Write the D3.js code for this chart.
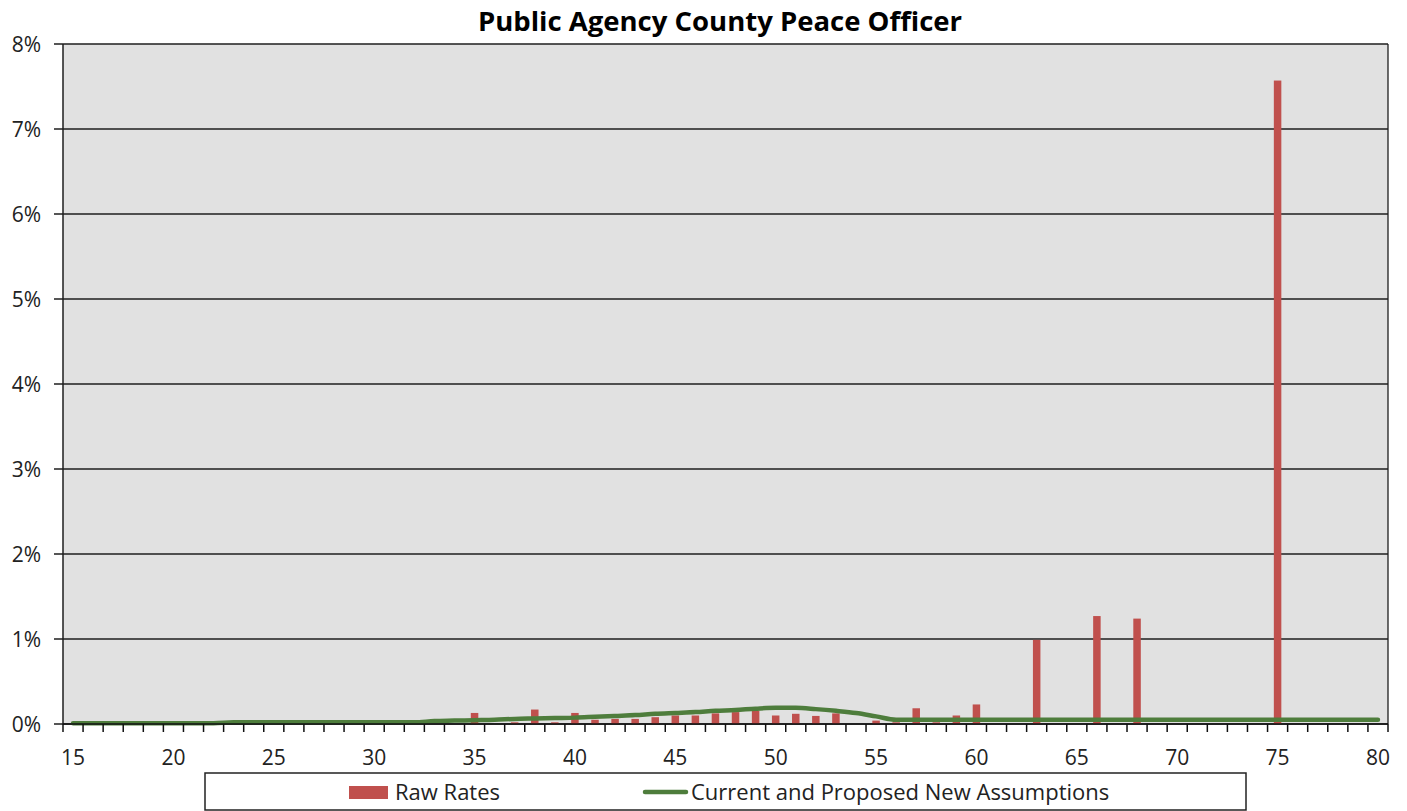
<!DOCTYPE html>
<meta charset="utf-8">
<script src="https://d3js.org/d3.v7.min.js"></script>
<style>
  body { margin: 0; background: #fff; }
  text { font-family: "Open Sans", sans-serif; fill: #222; }
</style>
<svg id="chart" width="1407" height="811"></svg>
<script>
  // ages on the category axis
  var ages = [15, 16, 17, 18, 19, 20, 21, 22, 23, 24, 25, 26, 27, 28, 29, 30, 31, 32, 33, 34,
    35, 36, 37, 38, 39, 40, 41, 42, 43, 44, 45, 46, 47, 48, 49, 50, 51, 52, 53, 54,
    55, 56, 57, 58, 59, 60, 61, 62, 63, 64, 65, 66, 67, 68, 69, 70, 71, 72, 73, 74,
    75, 76, 77, 78, 79, 80];

  // raw rates (%), one per age
  var rawRates = [0, 0, 0, 0, 0, 0, 0, 0, 0, 0, 0, 0, 0, 0, 0, 0, 0, 0, 0, 0,
    0.13, 0, 0.02, 0.17, 0.02, 0.13, 0.05, 0.06, 0.06, 0.08, 0.10, 0.10, 0.125, 0.14, 0.155, 0.10, 0.12, 0.095, 0.125, 0,
    0.04, 0.02, 0.185, 0.02, 0.10, 0.23, 0, 0, 0.99, 0, 0, 1.27, 0, 1.24, 0, 0, 0, 0, 0, 0,
    7.57, 0, 0, 0, 0, 0];

  // current and proposed new assumptions (%)
  var assumptions = [0.01, 0.01, 0.01, 0.01, 0.01, 0.01, 0.01, 0.01, 0.02, 0.02, 0.02, 0.02, 0.02, 0.02, 0.02, 0.02, 0.02, 0.02, 0.035, 0.04,
    0.045, 0.05, 0.06, 0.065, 0.07, 0.075, 0.085, 0.095, 0.105, 0.12, 0.13, 0.14, 0.155, 0.165, 0.18, 0.19, 0.19, 0.175, 0.155, 0.13,
    0.09, 0.05, 0.05, 0.05, 0.05, 0.05, 0.05, 0.05, 0.05, 0.05, 0.05, 0.05, 0.05, 0.05, 0.05, 0.05, 0.05, 0.05, 0.05, 0.05,
    0.05, 0.05, 0.05, 0.05, 0.05, 0.05];

  var yTicks = [0, 1, 2, 3, 4, 5, 6, 7, 8];
  var xLabels = [15, 20, 25, 30, 35, 40, 45, 50, 55, 60, 65, 70, 75, 80];

  var svg = d3.select("#chart");
  var pLeft = 63, pRight = 1388, pTop = 44, pBottom = 724;

  var x = d3.scaleBand().domain(ages).range([pLeft, pRight]).padding(0);
  var y = d3.scaleLinear().domain([0, 8]).range([pBottom, pTop]);

  // plot background
  svg.append("rect")
    .attr("x", pLeft).attr("y", pTop)
    .attr("width", pRight - pLeft).attr("height", pBottom - pTop)
    .attr("fill", "#e1e1e1");

  // gridlines + y ticks
  var yAxis = svg.append("g");
  yAxis.selectAll("line")
    .data(yTicks)
    .enter().append("line")
    .attr("x1", pLeft - 9).attr("x2", pRight)
    .attr("y1", function (d) { return y(d); })
    .attr("y2", function (d) { return y(d); })
    .attr("stroke", "#1e1e1e").attr("stroke-width", 1.3);
  yAxis.selectAll("text")
    .data(yTicks)
    .enter().append("text")
    .attr("x", 41)
    .attr("y", function (d) { return y(d) + 7.5; })
    .attr("text-anchor", "end")
    .style("font-size", "21px")
    .text(function (d) { return d + "%"; });

  // left axis and right border
  svg.append("line")
    .attr("x1", pLeft).attr("x2", pLeft).attr("y1", pTop).attr("y2", pBottom)
    .attr("stroke", "#1e1e1e").attr("stroke-width", 1.5);
  svg.append("line")
    .attr("x1", pRight).attr("x2", pRight).attr("y1", pTop).attr("y2", pBottom)
    .attr("stroke", "#1e1e1e").attr("stroke-width", 1.3);

  // bars
  var barW = 7.5;
  svg.append("g").selectAll("rect")
    .data(ages)
    .enter().append("rect")
    .attr("x", function (d) { return x(d) + x.bandwidth() / 2 - barW / 2; })
    .attr("y", function (d, i) { return y(rawRates[i]); })
    .attr("width", barW)
    .attr("height", function (d, i) { return pBottom - y(rawRates[i]); })
    .attr("fill", "#c0504d");

  // assumptions line
  var line = d3.line()
    .x(function (d) { return x(d) + x.bandwidth() / 2; })
    .y(function (d, i) { return y(assumptions[i]); })
    .curve(d3.curveMonotoneX);
  svg.append("path")
    .datum(ages)
    .attr("d", line)
    .attr("fill", "none")
    .attr("stroke", "#4e7d3c")
    .attr("stroke-width", 4.5)
    .attr("stroke-linecap", "round");

  // x axis: line, boundary ticks, labels every 5
  svg.append("line")
    .attr("x1", pLeft).attr("x2", pRight).attr("y1", pBottom).attr("y2", pBottom)
    .attr("stroke", "#111").attr("stroke-width", 1.5);
  var bounds = ages.map(function (d) { return x(d); }).concat([pRight]);
  svg.append("g").selectAll("line")
    .data(bounds)
    .enter().append("line")
    .attr("x1", function (d) { return d; }).attr("x2", function (d) { return d; })
    .attr("y1", pBottom).attr("y2", pBottom + 8)
    .attr("stroke", "#111").attr("stroke-width", 1.5);
  svg.append("g").selectAll("text")
    .data(xLabels)
    .enter().append("text")
    .attr("x", function (d) { return x(d) + x.bandwidth() / 2; })
    .attr("y", 765)
    .attr("text-anchor", "middle")
    .style("font-size", "21px")
    .text(function (d) { return d; });

  // title
  svg.append("text")
    .attr("x", 720).attr("y", 31)
    .attr("text-anchor", "middle")
    .style("font-size", "27.5px")
    .style("font-weight", "bold")
    .style("fill", "#000")
    .text("Public Agency County Peace Officer");

  // legend
  var lg = svg.append("g");
  lg.append("rect")
    .attr("x", 205).attr("y", 773).attr("width", 1041).attr("height", 37)
    .attr("fill", "#fff").attr("stroke", "#222").attr("stroke-width", 1.5);
  lg.append("rect")
    .attr("x", 349).attr("y", 786).attr("width", 39).attr("height", 13)
    .attr("fill", "#c0504d");
  lg.append("text")
    .attr("x", 395).attr("y", 800)
    .style("font-size", "22px")
    .text("Raw Rates");
  lg.append("line")
    .attr("x1", 645).attr("x2", 686).attr("y1", 792).attr("y2", 792)
    .attr("stroke", "#4e7d3c").attr("stroke-width", 4.5)
    .attr("stroke-linecap", "round");
  lg.append("text")
    .attr("x", 691).attr("y", 800)
    .style("font-size", "22px")
    .text("Current and Proposed New Assumptions");
</script>
